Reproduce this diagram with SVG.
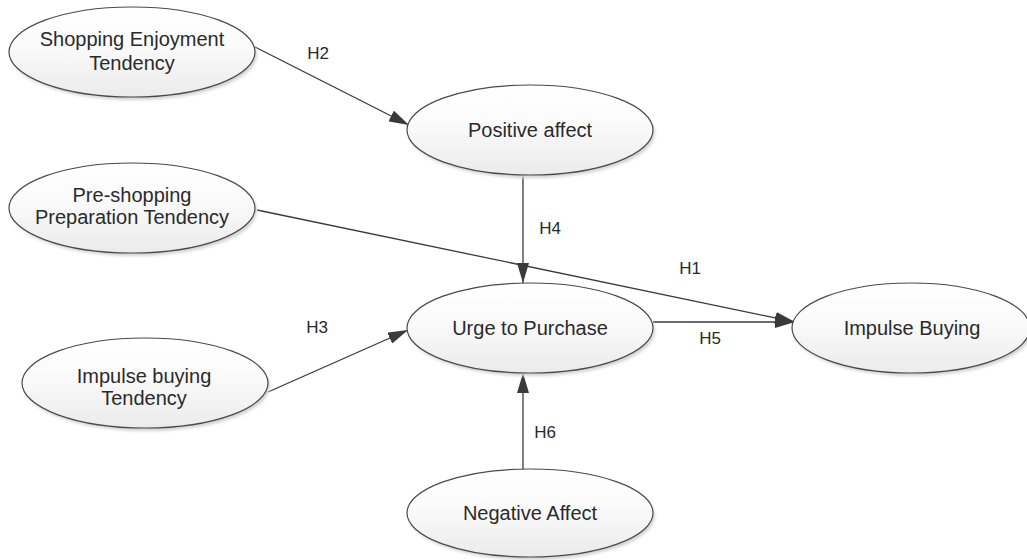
<svg xmlns="http://www.w3.org/2000/svg" width="1027" height="560" viewBox="0 0 1027 560">
  <defs>
    <linearGradient id="fill" x1="0" y1="0" x2="0" y2="1">
      <stop offset="0" stop-color="#ffffff"/>
      <stop offset="0.4" stop-color="#fbfbfb"/>
      <stop offset="1" stop-color="#ebebeb"/>
    </linearGradient>
    <filter id="shadow" x="-10%" y="-20%" width="120%" height="140%">
      <feGaussianBlur stdDeviation="1.5"/>
    </filter>
    <marker id="arrow" viewBox="0 0 20 12" refX="20" refY="6" markerWidth="20" markerHeight="12" markerUnits="userSpaceOnUse" orient="auto">
      <path d="M0,0 L20,6 L0,12 Z" fill="#3a3a3a"/>
    </marker>
    <style>
      .node ellipse.body { fill: url(#fill); stroke: #4a4a4a; stroke-width: 1.2; }
      .node ellipse.shd { fill: #d4d4d4; filter: url(#shadow); }
      .node text { font-family: "Liberation Sans", Arial, sans-serif; font-size: 20px; fill: #2a2a2a; text-anchor: middle; }
      .edge { stroke: #3a3a3a; stroke-width: 1.3; fill: none; marker-end: url(#arrow); }
      .lbl { font-family: "Liberation Sans", Arial, sans-serif; font-size: 17px; fill: #2a2a2a; text-anchor: middle; }
    </style>
  </defs>
  <rect width="1027" height="560" fill="#ffffff"/>

  <g id="connectors">
    <path class="edge" d="M255,47 L409,125"/>
    <path class="edge" d="M523,175 L523,283"/>
    <path class="edge" d="M257,210 L795,322"/>
    <path class="edge" d="M653,322 L795,322"/>
    <path class="edge" d="M268,392 L408,330"/>
    <path class="edge" d="M523,469 L523,373"/>
    <text class="lbl" x="318" y="59">H2</text>
    <text class="lbl" x="550" y="234">H4</text>
    <text class="lbl" x="690" y="274">H1</text>
    <text class="lbl" x="317" y="333">H3</text>
    <text class="lbl" x="710" y="344">H5</text>
    <text class="lbl" x="545" y="438">H6</text>
  </g>

  <g id="shopping-enjoyment" class="node">
    <ellipse class="shd" cx="134" cy="55" rx="123" ry="45"/>
    <ellipse class="body" cx="132" cy="52" rx="123" ry="45"/>
    <text x="132" y="46">Shopping Enjoyment</text>
    <text x="132" y="70">Tendency</text>
  </g>

  <g id="positive-affect" class="node">
    <ellipse class="shd" cx="532" cy="133" rx="123" ry="45"/>
    <ellipse class="body" cx="530" cy="130" rx="123" ry="45"/>
    <text x="530" y="137">Positive affect</text>
  </g>

  <g id="pre-shopping" class="node">
    <ellipse class="shd" cx="134" cy="211" rx="123" ry="45"/>
    <ellipse class="body" cx="132" cy="208" rx="123" ry="45"/>
    <text x="132" y="202">Pre-shopping</text>
    <text x="132" y="224">Preparation Tendency</text>
  </g>

  <g id="urge-to-purchase" class="node">
    <ellipse class="shd" cx="532" cy="331" rx="123" ry="45"/>
    <ellipse class="body" cx="530" cy="328" rx="123" ry="45"/>
    <text x="530" y="335">Urge to Purchase</text>
  </g>

  <g id="impulse-buying" class="node">
    <ellipse class="shd" cx="913" cy="331" rx="119" ry="45"/>
    <ellipse class="body" cx="911" cy="328" rx="119" ry="45"/>
    <text x="912" y="335">Impulse Buying</text>
  </g>

  <g id="impulse-buying-tendency" class="node">
    <ellipse class="shd" cx="147" cy="386" rx="123" ry="45"/>
    <ellipse class="body" cx="145" cy="383" rx="123" ry="45"/>
    <text x="144" y="383">Impulse buying</text>
    <text x="144" y="405">Tendency</text>
  </g>

  <g id="negative-affect" class="node">
    <ellipse class="shd" cx="532" cy="516" rx="123" ry="44"/>
    <ellipse class="body" cx="530" cy="513" rx="123" ry="44"/>
    <text x="530" y="520">Negative Affect</text>
  </g>
</svg>
